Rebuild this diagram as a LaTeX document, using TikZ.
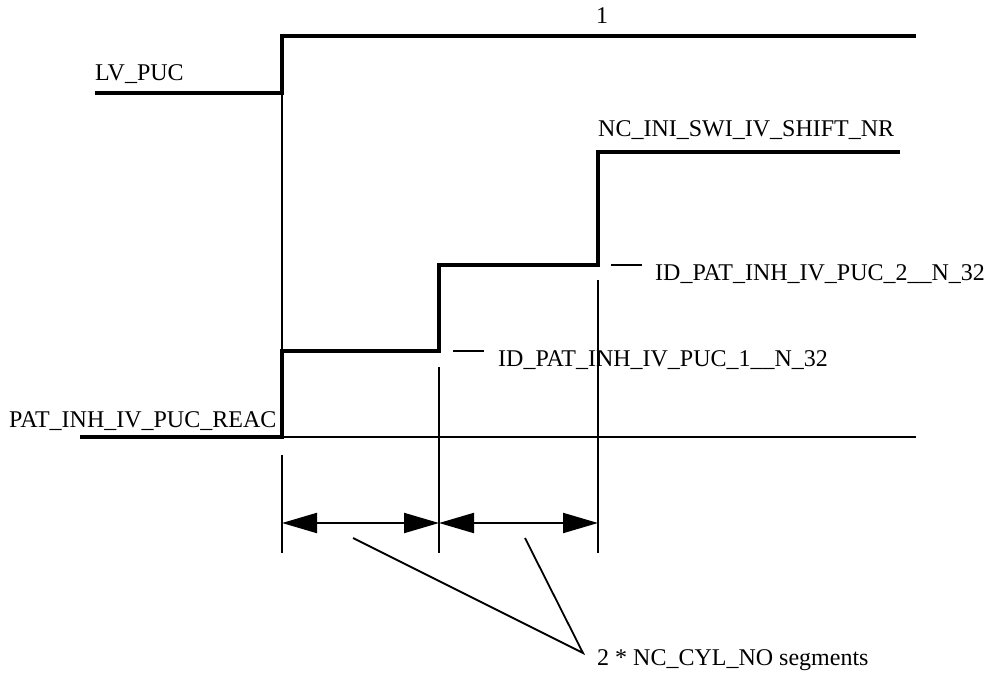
\documentclass[tikz,border=0pt]{standalone}
\usepackage{fontspec}
\setmainfont{Liberation Serif}
\usetikzlibrary{arrows.meta}
\tikzset{
  sigline/.style={line width=4pt, line join=miter},
  guide/.style={line width=1.8pt},
  lbl/.style={anchor=base west, inner sep=0pt},
  dimarr/.style={line width=2pt,
    {Triangle[length=35pt,width=20pt]}-{Triangle[length=35pt,width=20pt]}}
}
\begin{document}
\begin{tikzpicture}[x=1pt, y=-1pt, font=\fontsize{24}{28}\selectfont]
  \useasboundingbox (0,0) rectangle (991,675);
  % edges of the two signals
  \coordinate (edge0) at (282,437);
  \coordinate (edge1) at (439,351);
  \coordinate (edge2) at (598,265);
  % LV_PUC signal
  \node[lbl] (lvpuc) at (95,80) {LV\_PUC};
  \node[anchor=base, inner sep=0pt] (one) at (602,23) {1};
  \draw[sigline] (95,93) -- (282,93) -- (282,36) -- (916,36);
  \draw[guide] (282,93) -- (edge0) -- (916,437);
  % PAT_INH_IV_PUC_REAC signal, stepped
  \node[lbl] (reac) at (9,427) {PAT\_INH\_IV\_PUC\_REAC};
  \draw[sigline] (80,437) -- (edge0) |- (edge1) |- (edge2) |- (900,152);
  \node[lbl] (shift) at (598,136) {NC\_INI\_SWI\_IV\_SHIFT\_NR};
  % step levels
  \draw[guide] (453,351) -- (484,351);
  \node[lbl] (puc1) at (498,366) {ID\_PAT\_INH\_IV\_PUC\_1\_\_N\_32};
  \draw[guide] (611,265) -- (642,265);
  \node[lbl] (puc2) at (655,280) {ID\_PAT\_INH\_IV\_PUC\_2\_\_N\_32};
  % segment ticks
  \coordinate (tick0) at (282,553);
  \coordinate (tick1) at (439,553);
  \coordinate (tick2) at (598,553);
  \draw[guide] (282,455) -- (tick0);
  \draw[guide] (439,367) -- (tick1);
  \draw[guide] (598,280) -- (tick2);
  \draw[dimarr] (282,523) -- (439,523);
  \draw[dimarr] (439,523) -- (598,523);
  % leader lines to the note
  \coordinate (lead1) at (353,538);
  \coordinate (lead2) at (525,538);
  \coordinate (meet) at (583,653);
  \node[lbl] (seglbl) at (597,665) {2 * NC\_CYL\_NO segments};
  \draw[guide] (lead1) -- (meet) -- (lead2);
\end{tikzpicture}
\end{document}
